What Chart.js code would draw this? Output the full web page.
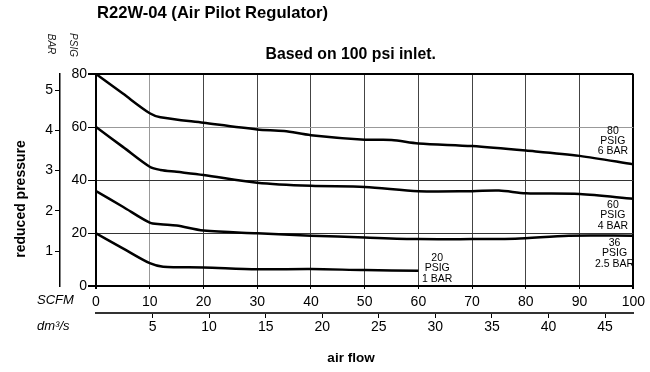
<!DOCTYPE html>
<html>
<head>
<meta charset="utf-8">
<script src="https://cdn.jsdelivr.net/npm/chart.js@4.4.1/dist/chart.umd.min.js"></script>
<style>
  html, body { margin: 0; padding: 0; background: #fff; }
  #wrap { width: 650px; height: 372px; }
</style>
</head>
<body>
<div id="wrap"><canvas id="chart" width="650" height="372"></canvas></div>
<script>
// Outlet pressure (PSIG) against air flow (SCFM), one curve per set point
const flow80 = [0, 5, 10, 12, 20, 30, 35, 40, 50, 55, 60, 70, 80, 90, 100];
const psig80 = [80, 72.6, 65.2, 63.7, 61.6, 59.1, 58.5, 56.9, 55.2, 55.1, 53.8, 52.8, 51.1, 49.1, 45.9];

const flow60 = [0, 5, 10, 12, 15, 20, 30, 40, 50, 60, 70, 75, 80, 90, 100];
const psig60 = [60, 52.5, 45.0, 43.8, 43.1, 41.9, 39.0, 37.8, 37.4, 35.8, 35.8, 36.0, 35.0, 34.7, 32.9];

const flow36 = [0, 5, 10, 12, 15, 20, 30, 40, 50, 60, 70, 78, 88, 100];
const psig36 = [35.8, 29.9, 23.9, 23.3, 22.8, 20.9, 19.9, 19.0, 18.3, 17.7, 17.7, 17.8, 19.0, 19.0];

const flow20 = [0, 5, 10, 12.5, 20, 30, 40, 50, 60];
const psig20 = [19.9, 14.2, 8.6, 7.3, 7.0, 6.3, 6.4, 6.0, 5.8];

// axis ticks
const scfmTicks = [0, 10, 20, 30, 40, 50, 60, 70, 80, 90, 100];
const psigTicks = [0, 20, 40, 60, 80];
const barTicks = [1, 2, 3, 4, 5];
const dm3Ticks = [5, 10, 15, 20, 25, 30, 35, 40, 45];

// secondary scales as printed on the sheet
const BAR_MIN = 0.13, BAR_MAX = 5.40;
const DM3_MAX = 47.5;

const TITLE = 'R22W-04 (Air Pilot Regulator)';
const SUBTITLE = 'Based on 100 psi inlet.';
const Y_TITLE = 'reduced pressure';
const X_TITLE = 'air flow';

// set point labels at the end of each curve (SCFM, PSIG of first line)
const curveNotes = [
  { lines: ['80', 'PSIG', '6 BAR'], x: 96.2, y: 58.6 },
  { lines: ['60', 'PSIG', '4 BAR'], x: 96.2, y: 30.6 },
  { lines: ['36', 'PSIG', '2.5 BAR'], x: 96.5, y: 16.2 },
  { lines: ['20', 'PSIG', '1 BAR'], x: 63.5, y: 10.6 }
];

const FONT = "'Liberation Sans', Arial, Helvetica, sans-serif";

function pts(xs, ys) {
  return xs.map((x, i) => ({ x: x, y: ys[i] }));
}

function curve(label, xs, ys) {
  return {
    label: label,
    data: pts(xs, ys),
    borderColor: '#000',
    borderWidth: 2.5,
    pointRadius: 0,
    fill: false,
    tension: 0.3
  };
}

const sheetText = {
  id: 'sheetText',
  afterDraw(chart) {
    const ctx = chart.ctx;
    const area = chart.chartArea;
    const xs = chart.scales.x, ys = chart.scales.y;
    ctx.save();
    ctx.fillStyle = '#000';

    ctx.font = 'bold 16.6px ' + FONT;
    ctx.textAlign = 'left';
    ctx.textBaseline = 'middle';
    ctx.fillText(TITLE, area.left + 1, 13);

    ctx.font = 'bold 15.8px ' + FONT;
    ctx.textAlign = 'center';
    ctx.fillText(SUBTITLE, (area.left + area.right) / 2 - 14, 55);

    // axis names
    ctx.font = 'bold 13.5px ' + FONT;
    ctx.fillText(X_TITLE, 351, 358);
    ctx.save();
    ctx.translate(21, 199);
    ctx.rotate(-Math.PI / 2);
    ctx.font = 'bold 14px ' + FONT;
    ctx.fillText(Y_TITLE, 0, 0);
    ctx.restore();

    // unit names for the two flow scales
    ctx.font = 'italic 13px ' + FONT;
    ctx.textAlign = 'left';
    ctx.fillText('SCFM', 37, 300);
    ctx.fillText('dm\u00b3/s', 37, 326);

    // unit names above the pressure scales
    ctx.font = 'italic 10px ' + FONT;
    ctx.fillStyle = '#222';
    [['BAR', 51, 44], ['PSIG', 73, 45]].forEach(([t, x, y]) => {
      ctx.save();
      ctx.translate(x, y);
      ctx.rotate(Math.PI / 2);
      ctx.textAlign = 'center';
      ctx.fillText(t, 0, 0);
      ctx.restore();
    });

    // curve set point notes
    ctx.fillStyle = '#000';
    ctx.font = '10.5px ' + FONT;
    ctx.textAlign = 'center';
    curveNotes.forEach(n => {
      const px = xs.getPixelForValue(n.x);
      const py = ys.getPixelForValue(n.y);
      n.lines.forEach((t, i) => ctx.fillText(t, px, py + i * 10.4));
    });
    ctx.restore();
  }
};

const edge = (v, lo, hi) => v === lo || v === hi;

new Chart(document.getElementById('chart'), {
  type: 'line',
  data: {
    datasets: [
      curve('80 PSIG', flow80, psig80),
      curve('60 PSIG', flow60, psig60),
      curve('36 PSIG', flow36, psig36),
      curve('20 PSIG', flow20, psig20)
    ]
  },
  options: {
    responsive: false,
    animation: false,
    devicePixelRatio: 1,
    layout: { padding: { left: 8, right: 14, top: 74, bottom: 4 } },
    plugins: { legend: { display: false }, tooltip: { enabled: false } },
    scales: {
      x: {
        type: 'linear',
        position: 'bottom',
        weight: 0,
        min: 0,
        max: 100,
        afterBuildTicks: s => { s.ticks = scfmTicks.map(v => ({ value: v })); },
        afterFit: s => { s.height = 27; },
        grid: {
          color: c => edge(c.tick.value, 0, 100) ? '#000' : (c.tick.value === 10 ? '#999' : '#444'),
          lineWidth: c => edge(c.tick.value, 0, 100) ? 2 : 1,
          tickLength: 3,
          tickColor: '#000'
        },
        border: { display: true, color: '#000', width: 2 },
        ticks: { color: '#000', font: { family: FONT, size: 14 }, padding: 5, maxRotation: 0 }
      },
      x2: {
        type: 'linear',
        position: 'bottom',
        weight: 1,
        min: 0,
        max: DM3_MAX,
        afterBuildTicks: s => { s.ticks = dm3Ticks.map(v => ({ value: v })); },
        afterFit: s => { s.height = 55; },
        grid: { drawOnChartArea: false, tickLength: 5, tickColor: '#000', color: '#000' },
        border: { display: true, color: '#333', width: 2 },
        ticks: { color: '#000', font: { family: FONT, size: 14 }, padding: 1, maxRotation: 0 }
      },
      y: {
        type: 'linear',
        position: 'left',
        weight: 0,
        min: 0,
        max: 80,
        afterBuildTicks: s => { s.ticks = psigTicks.map(v => ({ value: v })); },
        afterFit: s => { s.width = 36; },
        grid: {
          color: c => edge(c.tick.value, 0, 80) ? '#000' : (c.tick.value === 60 ? '#999' : '#333'),
          lineWidth: c => edge(c.tick.value, 0, 80) ? 2 : 1,
          tickLength: 8,
          tickColor: '#000'
        },
        border: { display: true, color: '#000', width: 2 },
        ticks: { color: '#000', font: { family: FONT, size: 14 }, padding: 1 }
      },
      y2: {
        type: 'linear',
        position: 'left',
        weight: 1,
        min: BAR_MIN,
        max: BAR_MAX,
        afterBuildTicks: s => { s.ticks = barTicks.map(v => ({ value: v })); },
        afterFit: s => { s.width = 52; },
        grid: { drawOnChartArea: false, tickLength: 5, tickColor: '#000', color: '#000' },
        border: { display: true, color: '#000', width: 1.5 },
        ticks: { color: '#000', font: { family: FONT, size: 14 }, padding: 2 }
      }
    }
  },
  plugins: [sheetText]
});
</script>
</body>
</html>
